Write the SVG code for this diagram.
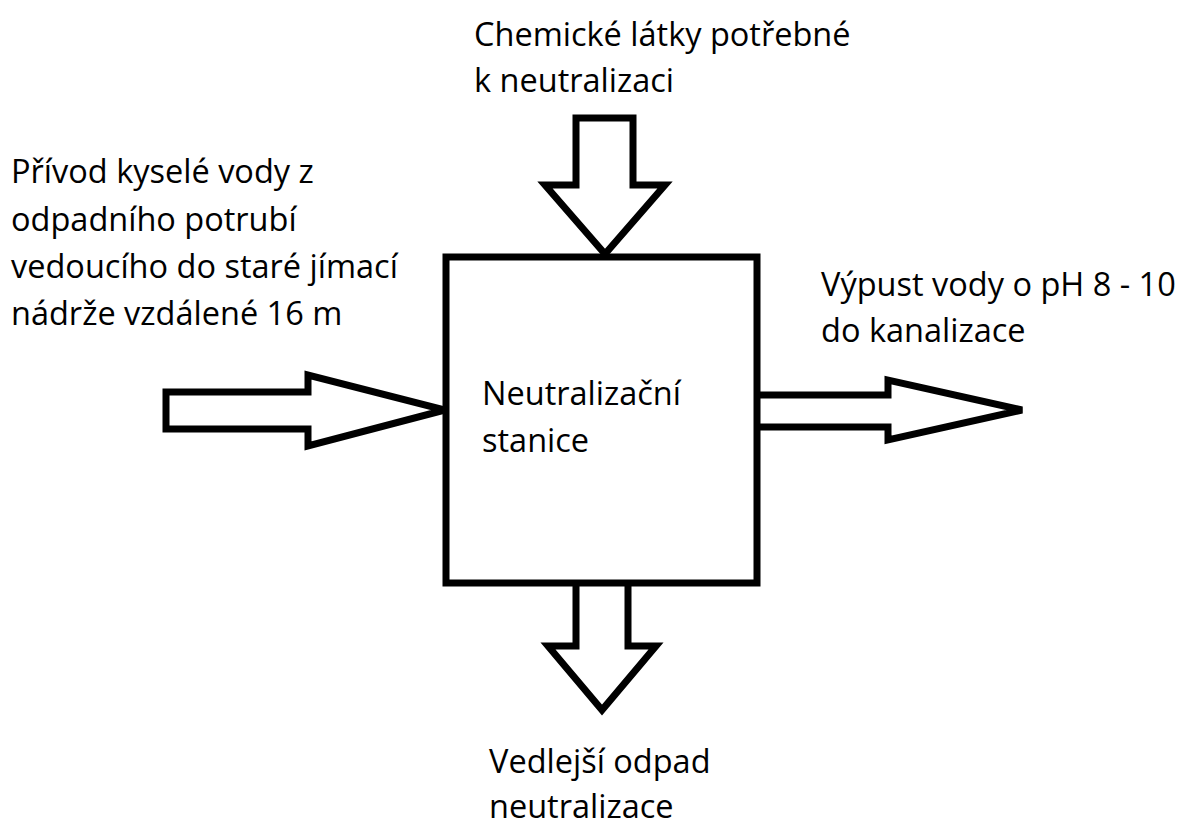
<svg xmlns="http://www.w3.org/2000/svg" width="1191" height="826" viewBox="0 0 1191 826">
<style>
.s{fill:#fff;stroke:#000;stroke-width:7;stroke-linejoin:miter}
.t{font-family:"Open Sans","Liberation Sans",sans-serif;font-size:32.5px;fill:#000}
</style>
<rect width="1191" height="826" fill="#fff"/>
<g id="connectors">
<path id="arrow-top" class="s" d="M576,118 H633 V185 H665 L605,254 L545,185 H576 Z"/>
<path id="arrow-left" class="s" d="M166,392 H308 V375 L445,410 L308,446 V429 H166 Z"/>
<path id="arrow-right" class="s" d="M757,395 H888 V380 L1022,410 L888,440 V427 H757"/>
<path id="arrow-bottom" class="s" d="M576,583 V646 H548 L602,710 L656,646 H628 V583"/>
</g>
<g id="station">
<rect class="s" x="446" y="257" width="311" height="326"/>
<text class="t" x="482" y="405">Neutralizační</text>
<text class="t" x="482" y="452">stanice</text>
</g>
<g id="chem">
<text class="t" x="474" y="46">Chemické látky potřebné</text>
<text class="t" x="474" y="92">k neutralizaci</text>
</g>
<g id="inflow">
<text class="t" x="11" y="183">Přívod kyselé vody z</text>
<text class="t" x="11" y="231">odpadního potrubí</text>
<text class="t" x="11" y="278">vedoucího do staré jímací</text>
<text class="t" x="11" y="325">nádrže vzdálené 16 m</text>
</g>
<g id="outflow">
<text class="t" x="821" y="296">Výpust vody o pH 8 - 10</text>
<text class="t" x="821" y="342">do kanalizace</text>
</g>
<g id="waste">
<text class="t" x="489" y="773">Vedlejší odpad</text>
<text class="t" x="489" y="818">neutralizace</text>
</g>
</svg>
